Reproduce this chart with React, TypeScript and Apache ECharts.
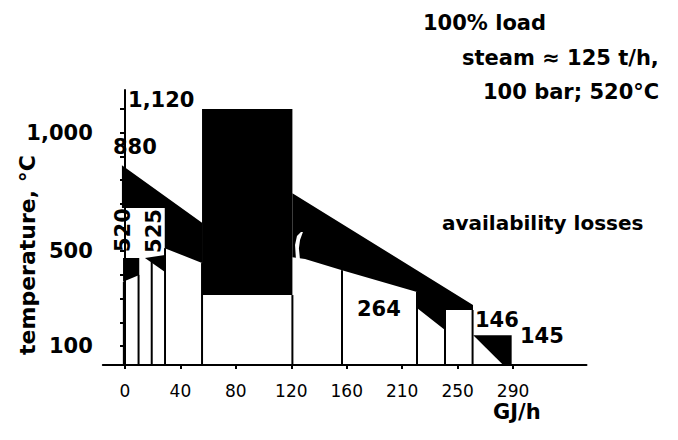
import { useEffect, useRef } from "react";
import * as echarts from "echarts";

// x axis: tick positions (axis units) and their printed labels, GJ/h
const X_TICKS = [0, 40, 80, 120, 160, 200, 240, 280];
const X_LABELS = ["0", "40", "80", "120", "160", "210", "250", "290"];
// y axis, temperature °C
const Y_MIN = 20;
const Y_MAX = 1180;
const Y_TICKS = [100, 200, 300, 400, 500, 600, 700, 800, 900, 1000, 1100];
const Y_LABELS = [100, 500, 1000];

// availability-loss areas (black), points as [GJ/h, °C]
const LOSS_FLUE_LEFT = [[-2.2, 863], [55.6, 620], [55.6, 450], [28.7, 513], [28.7, 682], [-2.2, 682]];
const LOSS_FURNACE = [[55.6, 315], [120.8, 315], [120.8, 1100], [55.6, 1100]];
const LOSS_RIGHT = [
  [120.8, 745], [251.1, 273], [251.1, 252], [230.9, 252], [230.9, 168],
  [210.7, 260], [210.7, 328], [156.6, 420], [129.9, 467], [120.8, 475],
];
const LOSS_BAR1 = [[-1.4, 471], [10.3, 471], [10.3, 400], [-1.4, 371]];
const LOSS_BAR2 = [[14.4, 471], [28.9, 484], [28.9, 412]];
const LOSS_END = [[251.3, 146], [279, 146], [279, 20], [272.9, 20]];
const LOSS_AREAS = [LOSS_FLUE_LEFT, LOSS_FURNACE, LOSS_RIGHT, LOSS_BAR1, LOSS_BAR2, LOSS_END];

// small white curl inside the loss band
const CURL = [[123.4, 463], [122.7, 526], [124.1, 564], [127, 581], [128.4, 581], [126.3, 547], [125.5, 513], [126.3, 463]];

// heat-exchanger section edges: x and top temperature
const EDGE_X = [-0.8, 9.8, 19.3, 28.9, 55.6, 120.8, 156.6, 210.7, 230.9, 250.8];
const EDGE_TOP = [371, 400, 455, 513, 450, 315, 420, 328, 252, 252];

// annotations
const NOTE_TEXT = ["1,120", "880", "520", "525", "264", "146", "145", "availability losses"];
const NOTE_X = [2.2, -8.7, -1.4, 20.9, 167.4, 252.5, 285, 228.7];
const NOTE_Y = [1138, 940, 589, 585, 256, 210, 142, 619];
const NOTE_ROT = [0, 0, 90, 90, 0, 0, 0, 0];

const HEADER = ["100% load", "steam \u2248 125 t/h,", "100 bar; 520\u00b0C"];

const FONT = "DejaVu Sans";

export default function App() {
  const ref = useRef<HTMLDivElement>(null);
  useEffect(() => {
    if (!ref.current) return;
    const chart = echarts.init(ref.current, undefined, { renderer: "svg" });
    const option: any = {
      animation: false,
      backgroundColor: "#fff",
      grid: { left: 102.8, right: 91.5, top: 90, bottom: 75 },
      xAxis: {
        type: "value",
        min: -16,
        max: 333,
        splitLine: { show: false },
        axisLine: { show: true, lineStyle: { color: "#000", width: 2 } },
        axisTick: { show: true, length: 4, lineStyle: { color: "#000", width: 2 }, customValues: X_TICKS },
        axisLabel: {
          customValues: X_TICKS,
          margin: 17,
          color: "#000",
          fontFamily: FONT,
          fontSize: 17,
          formatter: (v: number) => X_LABELS[X_TICKS.indexOf(v)] ?? "",
        },
      },
      yAxis: {
        type: "value",
        min: Y_MIN,
        max: Y_MAX,
        splitLine: { show: false },
        axisLine: { show: true, lineStyle: { color: "#000", width: 2 } },
        axisTick: { show: true, length: 5, lineStyle: { color: "#000", width: 2 }, customValues: Y_TICKS },
        axisLabel: {
          customValues: Y_LABELS,
          margin: 10,
          color: "#000",
          fontFamily: FONT,
          fontWeight: "bold",
          fontSize: 21,
          formatter: (v: number) => (v >= 1000 ? "1,000" : String(v)),
        },
      },
      graphic: [
        ...HEADER.map((t, i) => ({
          type: "text",
          x: [423, 462, 483][i],
          y: [23, 58, 92][i],
          style: {
            text: t, fill: "#000", fontFamily: FONT, fontWeight: "bold", fontSize: 21,
            align: "left", verticalAlign: "middle", textAlign: "left", textVerticalAlign: "middle",
          },
        })),
        {
          type: "text",
          x: 493,
          y: 412,
          style: {
            text: "GJ/h", fill: "#000", fontFamily: FONT, fontWeight: "bold", fontSize: 21,
            align: "left", verticalAlign: "middle", textAlign: "left", textVerticalAlign: "middle",
          },
        },
        {
          type: "text",
          x: 27,
          y: 255,
          rotation: Math.PI / 2,
          style: {
            text: "temperature, \u00b0C", fill: "#000", fontFamily: FONT, fontWeight: "bold", fontSize: 22,
            align: "center", verticalAlign: "middle", textAlign: "center", textVerticalAlign: "middle",
          },
        },
      ],
      series: [
        {
          type: "custom",
          silent: true,
          clip: false,
          data: LOSS_AREAS.map((p) => [p[0][0], p[0][1]]),
          renderItem: (params: any, api: any) => ({
            type: "polygon",
            shape: { points: LOSS_AREAS[params.dataIndex].map((p) => api.coord(p)) },
            style: { fill: "#000" },
          }),
          z: 1,
        },
        {
          type: "custom",
          silent: true,
          clip: false,
          data: [[CURL[0][0], CURL[0][1]]],
          renderItem: (_params: any, api: any) => ({
            type: "polygon",
            shape: { points: CURL.map((p) => api.coord(p)) },
            style: { fill: "#fff" },
          }),
          z: 2,
        },
        {
          type: "custom",
          silent: true,
          clip: false,
          data: EDGE_X.map((x, i) => [x, EDGE_TOP[i]]),
          renderItem: (params: any, api: any) => {
            const i = params.dataIndex;
            const a = api.coord([EDGE_X[i], Y_MIN]);
            const b = api.coord([EDGE_X[i], EDGE_TOP[i]]);
            return {
              type: "line",
              shape: { x1: a[0], y1: a[1], x2: b[0], y2: b[1] },
              style: { stroke: "#000", lineWidth: 2 },
            };
          },
          z: 3,
        },
        {
          type: "custom",
          silent: true,
          clip: false,
          data: NOTE_X.map((x, i) => [x, NOTE_Y[i]]),
          renderItem: (params: any, api: any) => {
            const i = params.dataIndex;
            const c = api.coord([NOTE_X[i], NOTE_Y[i]]);
            const rot = NOTE_ROT[i] !== 0;
            return {
              type: "text",
              x: c[0],
              y: c[1],
              rotation: (NOTE_ROT[i] * Math.PI) / 180,
              style: {
                text: NOTE_TEXT[i],
                fill: "#000",
                fontFamily: FONT,
                fontWeight: "bold",
                fontSize: i === 7 ? 20 : 21,
                align: rot ? "center" : "left",
                textAlign: rot ? "center" : "left",
                verticalAlign: "middle",
                textVerticalAlign: "middle",
              },
            };
          },
          z: 4,
        },
      ],
    };
    chart.setOption(option);
    return () => chart.dispose();
  }, []);
  return <div ref={ref} style={{ position: "fixed", left: 0, top: 0, width: 678, height: 440, background: "#fff" }} />;
}
